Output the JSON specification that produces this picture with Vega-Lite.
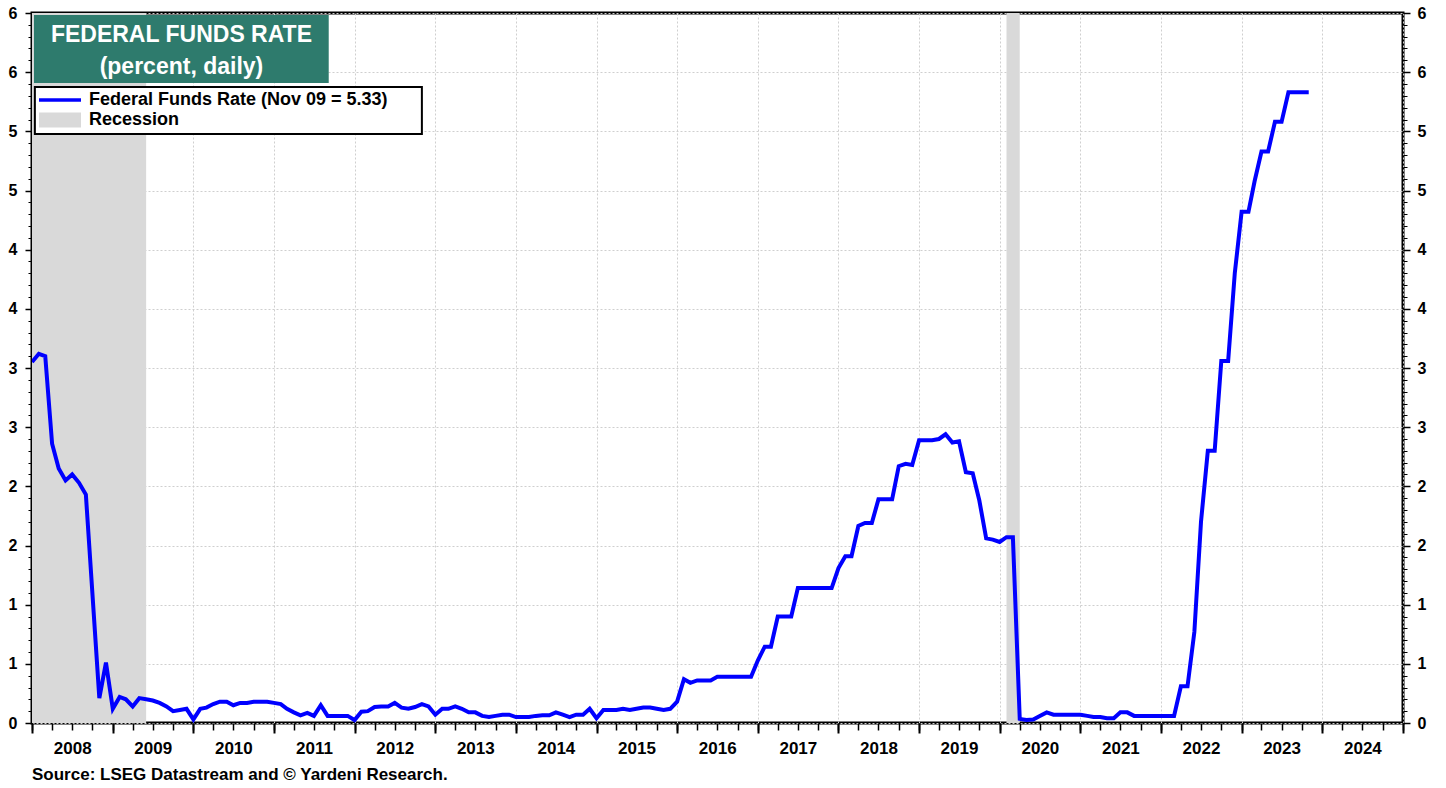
{
  "$schema": "https://vega.github.io/schema/vega-lite/v6.json",
  "width": 1371,
  "height": 710,
  "autosize": {"type": "none"},
  "padding": {"left": 32, "top": 13, "right": 43, "bottom": 65},
  "background": "white",
  "config": {
    "font": "Liberation Sans",
    "view": {"stroke": "black", "strokeWidth": 3},
    "axis": {"domain": false, "title": null, "tickColor": "black", "labelColor": "black", "labelFont": "Liberation Sans", "labelFontWeight": "bold", "gridColor": "#cfcfcf", "gridDash": [2, 2], "gridWidth": 1, "labelFlush": false, "labelOverlap": false}
  },
  "title": {"text": "Source: LSEG Datastream and © Yardeni Research.", "orient": "bottom", "anchor": "start", "frame": "group", "offset": 11, "font": "Liberation Sans", "fontSize": 17, "fontWeight": "bold", "color": "black"},
  "datasets": {
    "rec": [
      {"start": "2007-12-01", "end": "2009-06-01"},
      {"start": "2020-02-01", "end": "2020-04-01"}
    ],
    "ffr": [
      {"date": "2008-01-01", "rate": 3.05}, {"date": "2008-02-01", "rate": 3.12}, {"date": "2008-03-01", "rate": 3.10}, {"date": "2008-04-01", "rate": 2.36}, {"date": "2008-05-01", "rate": 2.15}, {"date": "2008-06-01", "rate": 2.05}, {"date": "2008-07-01", "rate": 2.10}, {"date": "2008-08-01", "rate": 2.03}, {"date": "2008-09-01", "rate": 1.93}, {"date": "2008-11-01", "rate": 0.21}, {"date": "2008-12-01", "rate": 0.51},
      {"date": "2009-01-01", "rate": 0.12}, {"date": "2009-02-01", "rate": 0.22}, {"date": "2009-03-01", "rate": 0.20}, {"date": "2009-04-01", "rate": 0.14}, {"date": "2009-05-01", "rate": 0.21}, {"date": "2009-06-01", "rate": 0.20}, {"date": "2009-07-01", "rate": 0.19}, {"date": "2009-08-01", "rate": 0.17}, {"date": "2009-09-01", "rate": 0.14}, {"date": "2009-10-01", "rate": 0.10}, {"date": "2009-11-01", "rate": 0.11}, {"date": "2009-12-01", "rate": 0.12},
      {"date": "2010-01-01", "rate": 0.03}, {"date": "2010-02-01", "rate": 0.12}, {"date": "2010-03-01", "rate": 0.13}, {"date": "2010-04-01", "rate": 0.16}, {"date": "2010-05-01", "rate": 0.18}, {"date": "2010-06-01", "rate": 0.18}, {"date": "2010-07-01", "rate": 0.15}, {"date": "2010-08-01", "rate": 0.17}, {"date": "2010-09-01", "rate": 0.17}, {"date": "2010-10-01", "rate": 0.18}, {"date": "2010-11-01", "rate": 0.18}, {"date": "2010-12-01", "rate": 0.18},
      {"date": "2011-01-01", "rate": 0.17}, {"date": "2011-02-01", "rate": 0.16}, {"date": "2011-03-01", "rate": 0.12}, {"date": "2011-04-01", "rate": 0.09}, {"date": "2011-05-01", "rate": 0.065}, {"date": "2011-06-01", "rate": 0.085}, {"date": "2011-07-01", "rate": 0.06}, {"date": "2011-08-01", "rate": 0.15}, {"date": "2011-09-01", "rate": 0.06}, {"date": "2011-10-01", "rate": 0.06}, {"date": "2011-11-01", "rate": 0.06}, {"date": "2011-12-01", "rate": 0.06},
      {"date": "2012-01-01", "rate": 0.025}, {"date": "2012-02-01", "rate": 0.095}, {"date": "2012-03-01", "rate": 0.10}, {"date": "2012-04-01", "rate": 0.135}, {"date": "2012-05-01", "rate": 0.14}, {"date": "2012-06-01", "rate": 0.14}, {"date": "2012-07-01", "rate": 0.17}, {"date": "2012-08-01", "rate": 0.13}, {"date": "2012-09-01", "rate": 0.12}, {"date": "2012-10-01", "rate": 0.135}, {"date": "2012-11-01", "rate": 0.16}, {"date": "2012-12-01", "rate": 0.14},
      {"date": "2013-01-01", "rate": 0.07}, {"date": "2013-02-01", "rate": 0.12}, {"date": "2013-03-01", "rate": 0.12}, {"date": "2013-04-01", "rate": 0.14}, {"date": "2013-05-01", "rate": 0.12}, {"date": "2013-06-01", "rate": 0.09}, {"date": "2013-07-01", "rate": 0.09}, {"date": "2013-08-01", "rate": 0.06}, {"date": "2013-09-01", "rate": 0.05}, {"date": "2013-10-01", "rate": 0.06}, {"date": "2013-11-01", "rate": 0.07}, {"date": "2013-12-01", "rate": 0.07},
      {"date": "2014-01-01", "rate": 0.05}, {"date": "2014-02-01", "rate": 0.05}, {"date": "2014-03-01", "rate": 0.05}, {"date": "2014-04-01", "rate": 0.06}, {"date": "2014-05-01", "rate": 0.065}, {"date": "2014-06-01", "rate": 0.065}, {"date": "2014-07-01", "rate": 0.09}, {"date": "2014-08-01", "rate": 0.07}, {"date": "2014-09-01", "rate": 0.05}, {"date": "2014-10-01", "rate": 0.07}, {"date": "2014-11-01", "rate": 0.07}, {"date": "2014-12-01", "rate": 0.12},
      {"date": "2015-01-01", "rate": 0.04}, {"date": "2015-02-01", "rate": 0.11}, {"date": "2015-03-01", "rate": 0.11}, {"date": "2015-04-01", "rate": 0.11}, {"date": "2015-05-01", "rate": 0.12}, {"date": "2015-06-01", "rate": 0.11}, {"date": "2015-07-01", "rate": 0.12}, {"date": "2015-08-01", "rate": 0.13}, {"date": "2015-09-01", "rate": 0.13}, {"date": "2015-10-01", "rate": 0.12}, {"date": "2015-11-01", "rate": 0.11}, {"date": "2015-12-01", "rate": 0.12},
      {"date": "2016-01-01", "rate": 0.18}, {"date": "2016-02-01", "rate": 0.37}, {"date": "2016-03-01", "rate": 0.34}, {"date": "2016-04-01", "rate": 0.36}, {"date": "2016-05-01", "rate": 0.36}, {"date": "2016-06-01", "rate": 0.36}, {"date": "2016-07-01", "rate": 0.39}, {"date": "2016-08-01", "rate": 0.39}, {"date": "2016-09-01", "rate": 0.39}, {"date": "2016-10-01", "rate": 0.39}, {"date": "2016-11-01", "rate": 0.39}, {"date": "2016-12-01", "rate": 0.39},
      {"date": "2017-01-01", "rate": 0.53}, {"date": "2017-02-01", "rate": 0.645}, {"date": "2017-03-01", "rate": 0.645}, {"date": "2017-04-01", "rate": 0.90}, {"date": "2017-05-01", "rate": 0.90}, {"date": "2017-06-01", "rate": 0.90}, {"date": "2017-07-01", "rate": 1.14}, {"date": "2017-08-01", "rate": 1.14}, {"date": "2017-09-01", "rate": 1.14}, {"date": "2017-10-01", "rate": 1.14}, {"date": "2017-11-01", "rate": 1.14}, {"date": "2017-12-01", "rate": 1.14},
      {"date": "2018-01-01", "rate": 1.31}, {"date": "2018-02-01", "rate": 1.41}, {"date": "2018-03-01", "rate": 1.41}, {"date": "2018-04-01", "rate": 1.665}, {"date": "2018-05-01", "rate": 1.69}, {"date": "2018-06-01", "rate": 1.69}, {"date": "2018-07-01", "rate": 1.89}, {"date": "2018-08-01", "rate": 1.89}, {"date": "2018-09-01", "rate": 1.89}, {"date": "2018-10-01", "rate": 2.17}, {"date": "2018-11-01", "rate": 2.19}, {"date": "2018-12-01", "rate": 2.18},
      {"date": "2019-01-01", "rate": 2.39}, {"date": "2019-02-01", "rate": 2.39}, {"date": "2019-03-01", "rate": 2.39}, {"date": "2019-04-01", "rate": 2.40}, {"date": "2019-05-01", "rate": 2.44}, {"date": "2019-06-01", "rate": 2.37}, {"date": "2019-07-01", "rate": 2.38}, {"date": "2019-08-01", "rate": 2.12}, {"date": "2019-09-01", "rate": 2.11}, {"date": "2019-10-01", "rate": 1.88}, {"date": "2019-11-01", "rate": 1.56}, {"date": "2019-12-01", "rate": 1.55},
      {"date": "2020-01-01", "rate": 1.53}, {"date": "2020-02-01", "rate": 1.57}, {"date": "2020-03-01", "rate": 1.57}, {"date": "2020-04-01", "rate": 0.035}, {"date": "2020-05-01", "rate": 0.025}, {"date": "2020-06-01", "rate": 0.03}, {"date": "2020-07-01", "rate": 0.06}, {"date": "2020-08-01", "rate": 0.09}, {"date": "2020-09-01", "rate": 0.07}, {"date": "2020-10-01", "rate": 0.07}, {"date": "2020-11-01", "rate": 0.07}, {"date": "2020-12-01", "rate": 0.07},
      {"date": "2021-01-01", "rate": 0.07}, {"date": "2021-02-01", "rate": 0.06}, {"date": "2021-03-01", "rate": 0.05}, {"date": "2021-04-01", "rate": 0.05}, {"date": "2021-05-01", "rate": 0.04}, {"date": "2021-06-01", "rate": 0.04}, {"date": "2021-07-01", "rate": 0.09}, {"date": "2021-08-01", "rate": 0.09}, {"date": "2021-09-01", "rate": 0.06}, {"date": "2021-10-01", "rate": 0.06}, {"date": "2021-11-01", "rate": 0.06}, {"date": "2021-12-01", "rate": 0.06},
      {"date": "2022-01-01", "rate": 0.06}, {"date": "2022-02-01", "rate": 0.06}, {"date": "2022-03-01", "rate": 0.06}, {"date": "2022-04-01", "rate": 0.31}, {"date": "2022-05-01", "rate": 0.31}, {"date": "2022-06-01", "rate": 0.77}, {"date": "2022-07-01", "rate": 1.70}, {"date": "2022-08-01", "rate": 2.30}, {"date": "2022-09-01", "rate": 2.30}, {"date": "2022-10-01", "rate": 3.06}, {"date": "2022-11-01", "rate": 3.06}, {"date": "2022-12-01", "rate": 3.80},
      {"date": "2023-01-01", "rate": 4.32}, {"date": "2023-02-01", "rate": 4.32}, {"date": "2023-03-01", "rate": 4.58}, {"date": "2023-04-01", "rate": 4.83}, {"date": "2023-05-01", "rate": 4.83}, {"date": "2023-06-01", "rate": 5.08}, {"date": "2023-07-01", "rate": 5.08}, {"date": "2023-08-01", "rate": 5.33}, {"date": "2023-09-01", "rate": 5.33}, {"date": "2023-10-01", "rate": 5.33}, {"date": "2023-11-01", "rate": 5.33}
    ]
  },
  "resolve": {"axis": {"x": "independent", "y": "independent"}},
  "layer": [
    {
      "data": {"name": "rec"},
      "mark": {"type": "rect", "color": "#d9d9d9", "clip": true},
      "encoding": {
        "x": {"field": "start", "type": "temporal",
          "scale": {"type": "utc", "nice": false, "domain": [{"year": 2008, "month": 1, "date": 1, "utc": true}, {"year": 2025, "month": 1, "date": 1, "utc": true}]},
          "axis": {"orient": "bottom", "tickCount": {"interval": "year", "step": 1}, "grid": true, "labels": false, "ticks": true, "tickSize": 10, "tickWidth": 2}},
        "x2": {"field": "end"}
      }
    },
    {
      "data": {"name": "ffr"},
      "mark": {"type": "line", "strokeWidth": 4, "clip": true},
      "encoding": {
        "x": {"field": "date", "type": "temporal",
          "scale": {"type": "utc", "nice": false, "domain": [{"year": 2008, "month": 1, "date": 1, "utc": true}, {"year": 2025, "month": 1, "date": 1, "utc": true}]},
          "axis": {"orient": "bottom", "grid": false, "ticks": false, "tickSize": 0, "labelPadding": 17, "labelFontSize": 17,
            "labelExpr": "utcFormat(datum.value, '%Y')",
            "values": [
              {"year": 2008, "month": 7, "date": 1, "utc": true}, {"year": 2009, "month": 7, "date": 1, "utc": true}, {"year": 2010, "month": 7, "date": 1, "utc": true}, {"year": 2011, "month": 7, "date": 1, "utc": true}, {"year": 2012, "month": 7, "date": 1, "utc": true}, {"year": 2013, "month": 7, "date": 1, "utc": true}, {"year": 2014, "month": 7, "date": 1, "utc": true}, {"year": 2015, "month": 7, "date": 1, "utc": true}, {"year": 2016, "month": 7, "date": 1, "utc": true}, {"year": 2017, "month": 7, "date": 1, "utc": true}, {"year": 2018, "month": 7, "date": 1, "utc": true}, {"year": 2019, "month": 7, "date": 1, "utc": true}, {"year": 2020, "month": 7, "date": 1, "utc": true}, {"year": 2021, "month": 7, "date": 1, "utc": true}, {"year": 2022, "month": 7, "date": 1, "utc": true}, {"year": 2023, "month": 7, "date": 1, "utc": true}, {"year": 2024, "month": 7, "date": 1, "utc": true}
            ]}},
        "y": {"field": "rate", "type": "quantitative",
          "scale": {"domain": [0, 6], "nice": false, "zero": true},
          "axis": {"orient": "left", "values": [0, 0.5, 1, 1.5, 2, 2.5, 3, 3.5, 4, 4.5, 5, 5.5, 6], "labelExpr": "format(datum.value, '.0f')", "grid": true, "tickSize": 7, "tickWidth": 1.5, "labelPadding": 8, "labelFontSize": 16}},
        "color": {"datum": "Federal Funds Rate (Nov 09 = 5.33)", "type": "nominal",
          "scale": {"domain": ["Federal Funds Rate (Nov 09 = 5.33)", "Recession"], "range": ["#0000ff", "#d9d9d9"]},
          "legend": {
            "orient": "none", "legendX": 3, "legendY": 74, "title": null, "direction": "vertical",
            "padding": 4, "rowPadding": 2, "symbolSize": 324, "symbolStrokeWidth": 0, "symbolOffset": 0, "labelOffset": 32,
            "labelFont": "Liberation Sans", "labelFontSize": 18, "labelFontWeight": "bold", "labelColor": "black", "labelLimit": 800,
            "encode": {
              "symbols": {"update": {
                "shape": {"signal": "datum.value === 'Recession' ? 'M-1,-0.833H3.667V0.833H-1Z' : 'M-1,-0.2H3.667V0.2H-1Z'"},
                "fill": {"signal": "datum.value === 'Recession' ? '#d9d9d9' : '#0000ff'"},
                "stroke": {"value": "transparent"},
                "strokeWidth": {"value": 0}
              }}
            }
          }
        }
      }
    },
    {
      "data": {"name": "ffr"},
      "mark": {"type": "point", "opacity": 0},
      "encoding": {
        "x": {"field": "date", "type": "temporal",
          "scale": {"type": "utc", "nice": false, "domain": [{"year": 2008, "month": 1, "date": 1, "utc": true}, {"year": 2025, "month": 1, "date": 1, "utc": true}]},
          "axis": {"orient": "bottom", "tickCount": {"interval": "month", "step": 3}, "grid": false, "labels": false, "tickSize": 7, "tickWidth": 1.5}},
        "y": {"field": "rate", "type": "quantitative", "scale": {"domain": [0, 6], "nice": false},
          "axis": {"orient": "right", "values": [0, 0.5, 1, 1.5, 2, 2.5, 3, 3.5, 4, 4.5, 5, 5.5, 6], "labelExpr": "format(datum.value, '.0f')", "grid": false, "tickSize": 7, "tickWidth": 1.5, "labelPadding": 7, "labelFontSize": 16}}
      }
    },
    {
      "data": {"name": "ffr"},
      "mark": {"type": "point", "opacity": 0},
      "encoding": {
        "x": {"field": "date", "type": "temporal", "axis": null},
        "y": {"field": "rate", "type": "quantitative", "scale": {"domain": [0, 6], "nice": false},
          "axis": {"orient": "left", "tickCount": 60, "grid": false, "labels": false, "tickSize": 4, "tickWidth": 1}}
      }
    },
    {
      "data": {"name": "ffr"},
      "mark": {"type": "point", "opacity": 0},
      "encoding": {
        "x": {"field": "date", "type": "temporal", "axis": null},
        "y": {"field": "rate", "type": "quantitative", "scale": {"domain": [0, 6], "nice": false},
          "axis": {"orient": "right", "tickCount": 60, "grid": false, "labels": false, "tickSize": 4, "tickWidth": 1}}
      }
    },
    {
      "data": {"values": [{}]},
      "mark": {"type": "rect", "color": "#2e7b6d"},
      "encoding": {
        "x": {"datum": {"year": 2008, "month": 1, "date": 10, "utc": true}, "type": "temporal", "axis": null},
        "x2": {"datum": {"year": 2011, "month": 9, "date": 6, "utc": true}},
        "y": {"datum": 5.983, "type": "quantitative", "axis": null},
        "y2": {"datum": 5.409}
      }
    },
    {
      "data": {"values": [{}]},
      "mark": {"type": "rect", "fill": "white", "stroke": "black", "strokeWidth": 2},
      "encoding": {
        "x": {"datum": {"year": 2008, "month": 1, "date": 14, "utc": true}, "type": "temporal", "axis": null},
        "x2": {"datum": {"year": 2012, "month": 11, "date": 1, "utc": true}},
        "y": {"datum": 5.375, "type": "quantitative", "axis": null},
        "y2": {"datum": 4.977}
      }
    },
    {
      "data": {"values": [{}]},
      "mark": {"type": "text", "text": "FEDERAL FUNDS RATE", "color": "white", "font": "Liberation Sans", "fontSize": 23, "fontWeight": "bold", "align": "center", "baseline": "middle"},
      "encoding": {
        "x": {"datum": {"year": 2009, "month": 11, "date": 8, "utc": true}, "type": "temporal", "axis": null},
        "y": {"datum": 5.81, "type": "quantitative", "axis": null}
      }
    },
    {
      "data": {"values": [{}]},
      "mark": {"type": "text", "text": "(percent, daily)", "color": "white", "font": "Liberation Sans", "fontSize": 23, "fontWeight": "bold", "align": "center", "baseline": "middle"},
      "encoding": {
        "x": {"datum": {"year": 2009, "month": 11, "date": 8, "utc": true}, "type": "temporal", "axis": null},
        "y": {"datum": 5.545, "type": "quantitative", "axis": null}
      }
    }
  ]
}
